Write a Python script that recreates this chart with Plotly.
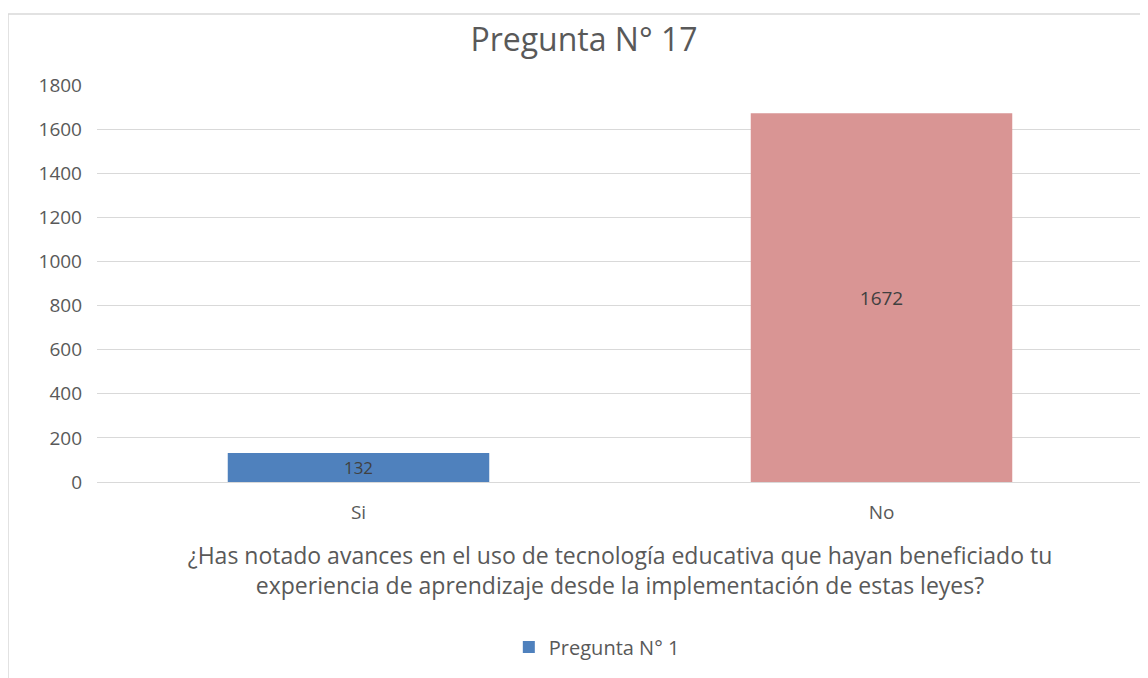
import plotly.graph_objects as go

categories = ["Si", "No"]
values = [132, 1672]
bar_colors = ["#4F81BD", "#D99594"]
series_name = "Pregunta N° 1"
title_text = "Pregunta N° 17"
x_title = "¿Has notado avances en el uso de tecnología educativa que hayan beneficiado tu<br>experiencia de aprendizaje desde la implementación de estas leyes?"
y_ticks = [0, 200, 400, 600, 800, 1000, 1200, 1400, 1600, 1800]

# page body has an 8px margin; compensate
OFF = 8
W, H = 1148 - OFF, 678 - OFF
L, R, T, B = 97 - OFF, 13 - OFF, 85 - OFF, 196
pw = W - L - R
ph = H - T - B

FONT = "Open Sans"
TXT = "#595959"

fig = go.Figure()
fig.add_trace(go.Bar(
    x=categories, y=values, name=series_name,
    marker=dict(color=bar_colors, line=dict(width=0)),
    width=0.5,
    text=[str(v) for v in values],
    textposition="inside", insidetextanchor="middle",
    textfont=dict(family=FONT, size=19, color="#404040"),
    showlegend=True,
))

fig.update_layout(
    width=W, height=H,
    margin=dict(l=L, r=R, t=T, b=B),
    paper_bgcolor="white", plot_bgcolor="white",
    font=dict(family=FONT, color=TXT),
    title=dict(text=title_text, x=(584 - OFF) / W, xanchor="center", y=1 - (40 - OFF) / H, yanchor="middle",
               font=dict(size=32, color=TXT, family=FONT)),
    xaxis=dict(
        showgrid=False, showline=True, linecolor="#d9d9d9", linewidth=1,
        ticks="", tickfont=dict(size=19, color=TXT), ticklabelstandoff=13,
        title=dict(text=x_title, font=dict(size=23, color=TXT), standoff=24),
    ),
    yaxis=dict(
        range=[0, 1800], tickvals=y_ticks, showgrid=True, gridcolor="#d9d9d9", gridwidth=1,
        zeroline=False, showline=False, ticks="", ticklabelstandoff=14,
        tickfont=dict(size=19, color=TXT),
    ),
    legend=dict(orientation="h", x=(593 - 97) / 1038, xanchor="center",
                y=-(647 - 85 - ph) / ph, yanchor="middle",
                font=dict(size=20, color=TXT), itemwidth=30),
    bargap=0.5,
    shapes=[dict(type="rect", xref="paper", yref="paper",
                 x0=(8 - 97) / pw, x1=(1170 - 97) / pw,
                 y0=-(700 - 85 - ph) / ph, y1=1 + (85 - 14) / ph,
                 line=dict(color="#d9d9d9", width=1.5), fillcolor="rgba(0,0,0,0)", layer="below")],
)

fig.write_html("out.html")
